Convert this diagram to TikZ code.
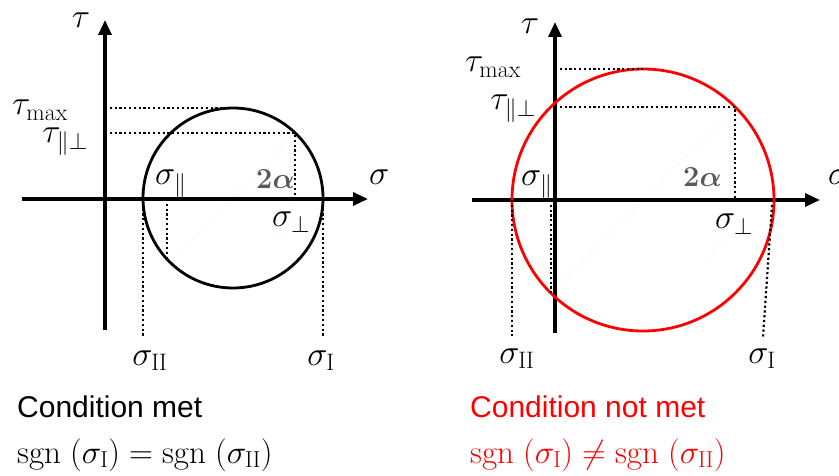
\RequirePackage{fix-cm}
\documentclass[tikz,border=0pt]{standalone}
\usepackage{amsmath}
\usepackage{bm}
\usepackage{fontspec}
\newfontfamily\labelsans{Liberation Sans}
\usetikzlibrary{arrows.meta,positioning}

\begin{document}
\begin{tikzpicture}[x=1pt, y=-1pt,
    axis/.style={line width=3.2pt, -{Triangle[length=15pt,width=13pt]}},
    mohr/.style={line width=2.8pt},
    guide/.style={line width=2.2pt, dash pattern=on 2.2pt off 2.6pt},
    faint/.style={gray!7, line width=1pt, dashed},
    lbl/.style={font=\fontsize{34}{40}\selectfont, inner sep=0pt},
    cond/.style={font=\labelsans\fontsize{30}{36}\selectfont, anchor=base west, inner sep=0pt},
    sgnline/.style={font=\fontsize{33}{40}\selectfont, anchor=base west, inner sep=0pt}]
    % Define colors
    \definecolor{failred}{RGB}{255,0,0}
    \definecolor{anglegray}{RGB}{89,89,89}

    \useasboundingbox (0,0) rectangle (839,476);

    % ---------- Left diagram: condition met ----------
    \coordinate (L-c) at (233,198);
    \coordinate (L-p) at (295,133);
    \coordinate (L-q) at (171,263);

    % faint diameter and angle
    \draw[faint] (L-p) -- (L-q);
    \draw[faint] ([xshift=60pt]L-c) arc[start angle=0, end angle=-46, radius=60pt];

    % axes
    \coordinate (L-sl) at (22,199);
    \coordinate (L-sr) at (368,199);
    \coordinate (L-tb) at (105,330);
    \coordinate (L-tt) at (105,20);
    \draw[axis] (L-sl) -- (L-sr);
    \draw[axis] (L-tb) -- (L-tt);

    % Mohr circle
    \draw[mohr] (L-c) circle[radius=90pt];

    % dotted guides
    \draw[guide] (105,108) -- (233,108);
    \draw[guide] (105,133) -- (L-p) -- (295,199);
    \draw[guide] (167,199) -- (167,259);
    \draw[guide] (143,199) -- (143,337);
    \draw[guide] (323,199) -- (323,337);

    % labels
    \node[lbl] (L-tau) at (81,20) {$\tau$};
    \node[lbl, anchor=base east] (L-tmax) at (68,115) {$\tau_{\mathrm{max}}$};
    \node[lbl, anchor=base east] (L-tpp) at (88,143) {$\tau_{\parallel\perp}$};
    \node[lbl, anchor=base west] (L-spar) at (155,185) {$\sigma_{\parallel}$};
    \node[lbl, anchor=base west, text=anglegray, font=\fontsize{29}{34}\selectfont] (L-ang) at (256,189) {$\bm{2\alpha}$};
    \node[lbl, anchor=base west] (L-sig) at (369,185) {$\sigma$};
    \node[lbl, anchor=base west] (L-sperp) at (272,227) {$\sigma_{\perp}$};
    \node[lbl, anchor=base] (L-s2) at (150,365) {$\sigma_{\mathrm{II}}$};
    \node[lbl, anchor=base] (L-s1) at (321,365) {$\sigma_{\mathrm{I}}$};

    \node[cond] (L-cond) at (17,417) {Condition met};
    \node[sgnline] (L-sgn) at (17,463) {$\mathrm{sgn}\;(\sigma_{\mathrm{I}}) = \mathrm{sgn}\;(\sigma_{\mathrm{II}})$};

    % ---------- Right diagram: condition not met ----------
    \coordinate (R-c) at (643,200);
    \coordinate (R-p) at (735,107);
    \coordinate (R-q) at (551,293);

    % faint diameter and angle
    \draw[faint] (R-p) -- (R-q);
    \draw[faint] ([xshift=88pt]R-c) arc[start angle=0, end angle=-45, radius=88pt];

    % axes
    \coordinate (R-sl) at (472,200);
    \coordinate (R-sr) at (820,200);
    \coordinate (R-tb) at (555,333);
    \coordinate (R-tt) at (555,22);
    \draw[axis] (R-sl) -- (R-sr);
    \draw[axis] (R-tb) -- (R-tt);

    % Mohr circle
    \draw[mohr, failred] (R-c) circle[radius=131pt];

    % dotted guides
    \draw[guide] (555,69) -- (643,69);
    \draw[guide] (555,107) -- (R-p) -- (735,200);
    \draw[guide] (551,200) -- (R-q);
    \draw[guide] (512,200) -- (512,336);
    \draw[guide] (772,205) -- (763,337);

    % labels
    \node[lbl] (R-tau) at (530,26) {$\tau$};
    \node[lbl, anchor=base east] (R-tmax) at (521,72) {$\tau_{\mathrm{max}}$};
    \node[lbl, anchor=base east] (R-tpp) at (536,110) {$\tau_{\parallel\perp}$};
    \node[lbl, anchor=base west] (R-spar) at (521,186) {$\sigma_{\parallel}$};
    \node[lbl, anchor=base west, text=anglegray, font=\fontsize{29}{34}\selectfont] (R-ang) at (683,187) {$\bm{2\alpha}$};
    \node[lbl, anchor=base west] (R-sig) at (828,185) {$\sigma$};
    \node[lbl, anchor=base west] (R-sperp) at (715,229) {$\sigma_{\perp}$};
    \node[lbl, anchor=base] (R-s2) at (517,363) {$\sigma_{\mathrm{II}}$};
    \node[lbl, anchor=base] (R-s1) at (762,363) {$\sigma_{\mathrm{I}}$};

    \node[cond, text=failred] (R-cond) at (470,417) {Condition not met};
    \node[sgnline, text=failred] (R-sgn) at (470,463) {$\mathrm{sgn}\;(\sigma_{\mathrm{I}}) \neq \mathrm{sgn}\;(\sigma_{\mathrm{II}})$};
\end{tikzpicture}
\end{document}
